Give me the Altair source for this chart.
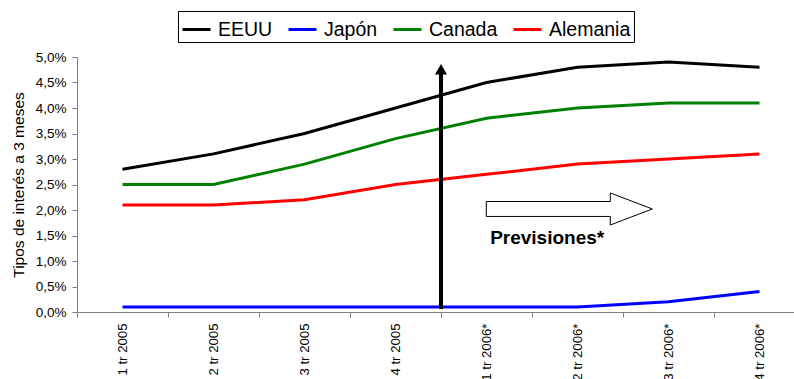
import altair as alt
import pandas as pd

# Quarters on the x axis (2006 values are forecasts)
quarters = ["1 tr 2005", "2 tr 2005", "3 tr 2005", "4 tr 2005",
            "1 tr 2006*", "2 tr 2006*", "3 tr 2006*", "4 tr 2006*"]

countries = ["EEUU", "Japón", "Canada", "Alemania"]
colors = ["#000000", "#0000ff", "#008000", "#ff0000"]

# 3-month interest rates, in percent
eeuu = [2.8, 3.1, 3.5, 4.0, 4.5, 4.8, 4.9, 4.8]
japon = [0.1, 0.1, 0.1, 0.1, 0.1, 0.1, 0.2, 0.4]
canada = [2.5, 2.5, 2.9, 3.4, 3.8, 4.0, 4.1, 4.1]
alemania = [2.1, 2.1, 2.2, 2.5, 2.7, 2.9, 3.0, 3.1]

y_ticks = [0.0, 0.5, 1.0, 1.5, 2.0, 2.5, 3.0, 3.5, 4.0, 4.5, 5.0]

FONT = "Liberation Sans"
AXIS_GREY = "#7f7f7f"
Y_TITLE = "Tipos de interés a 3 meses"
X_LABEL_SIZE = 13.2

rows = []
for country, values in zip(countries, [eeuu, japon, canada, alemania]):
    for q, v in zip(quarters, values):
        rows.append({"trimestre": q, "pais": country, "tipo": v})
df = pd.DataFrame(rows)

# band scale: ticks fall between quarters, lines sit at band centres
x_scale = alt.Scale(type="band", domain=quarters, range=[0, 728],
                    paddingInner=0, paddingOuter=0)
y_scale = alt.Scale(domain=[0, 5], nice=False, zero=True)

# the same axis definitions go on every layer so nothing conflicts
x_axis = alt.Axis(title=None, labelAngle=270, labelAlign="right",
                  labelBaseline="middle", tickBand="extent",
                  labelFontSize=X_LABEL_SIZE, labelFont=FONT,
                  labelColor="black")
y_axis = alt.Axis(values=y_ticks,
                  labelExpr="replace(format(datum.value, '.1f'), '.', ',') + '%'",
                  title=Y_TITLE, labelFontSize=13.5)


def xenc(band=0.5):
    return alt.X("trimestre:N", scale=x_scale, sort=quarters, axis=x_axis,
                 bandPosition=band)


def yenc(field="tipo"):
    return alt.Y(f"{field}:Q", scale=y_scale, axis=y_axis, title=Y_TITLE)


lines = alt.Chart(df).mark_line(strokeWidth=3).encode(
    x=xenc(),
    y=yenc(),
    color=alt.Color(
        "pais:N",
        scale=alt.Scale(domain=countries, range=colors),
        legend=alt.Legend(orient="none", legendX=101, legendY=-46,
                          direction="horizontal", title=None,
                          symbolType="stroke", symbolSize=784,
                          symbolStrokeWidth=3, labelFontSize=19.5,
                          labelFont=FONT, labelColor="black",
                          labelOffset=6, columnPadding=9, padding=3,
                          strokeColor="black", fillColor="white"),
    ),
)

# vertical arrow separating observed data from forecasts
divider = pd.DataFrame({"trimestre": ["4 tr 2005"], "tipo": [0.06],
                        "tipo_fin": [4.72], "punta": [4.76]})
divider_rule = alt.Chart(divider).mark_rule(color="black", strokeWidth=4).encode(
    x=xenc(1),
    y=yenc(),
    y2="tipo_fin:Q",
)
divider_head = alt.Chart(divider).mark_point(
    shape="triangle-up", size=144, filled=True, color="black", opacity=1
).encode(
    x=xenc(1),
    y=yenc("punta"),
)

# hollow block arrow pointing to the forecast period
block_path = ("M-1,-0.09L0.494,-0.09L0.494,-0.193L1,0L0.494,0.193"
              "L0.494,0.09L-1,0.09Z")
block = pd.DataFrame({"trimestre": ["2 tr 2006*"], "tipo": [2.02]})
block_arrow = alt.Chart(block).mark_point(
    shape=block_path, size=27556, filled=True, fill="white",
    stroke="black", strokeWidth=1, opacity=1, fillOpacity=1, strokeOpacity=1
).encode(
    x=xenc(0.41),
    y=yenc(),
)

note = pd.DataFrame({"trimestre": ["1 tr 2006*"], "tipo": [1.33],
                     "texto": ["Previsiones*"]})
note_text = alt.Chart(note).mark_text(
    align="left", baseline="alphabetic", fontWeight="bold", fontSize=19,
    font=FONT, color="black"
).encode(
    x=xenc(0.54),
    y=yenc(),
    text="texto:N",
)

chart = (
    alt.layer(lines, divider_rule, divider_head, block_arrow, note_text)
    .properties(
        width=717,
        height=255,
        padding={"left": 77, "top": 57, "right": 0, "bottom": 67},
        autosize=alt.AutoSizeParams(type="none"),
    )
    .configure(font=FONT)
    .configure_view(stroke=None)
    .configure_axis(domainColor=AXIS_GREY, tickColor=AXIS_GREY, grid=False,
                    labelColor="black", titleColor="black", tickSize=5,
                    labelPadding=6, labelOverlap=False, labelFont=FONT,
                    titleFont=FONT)
    .configure_axisX(labelFontSize=X_LABEL_SIZE)
    .configure_axisY(titleFontSize=15.5, titleFontWeight="normal",
                     titlePadding=9)
)

chart.save("out.html", embed_options={"renderer": "svg", "actions": False})
